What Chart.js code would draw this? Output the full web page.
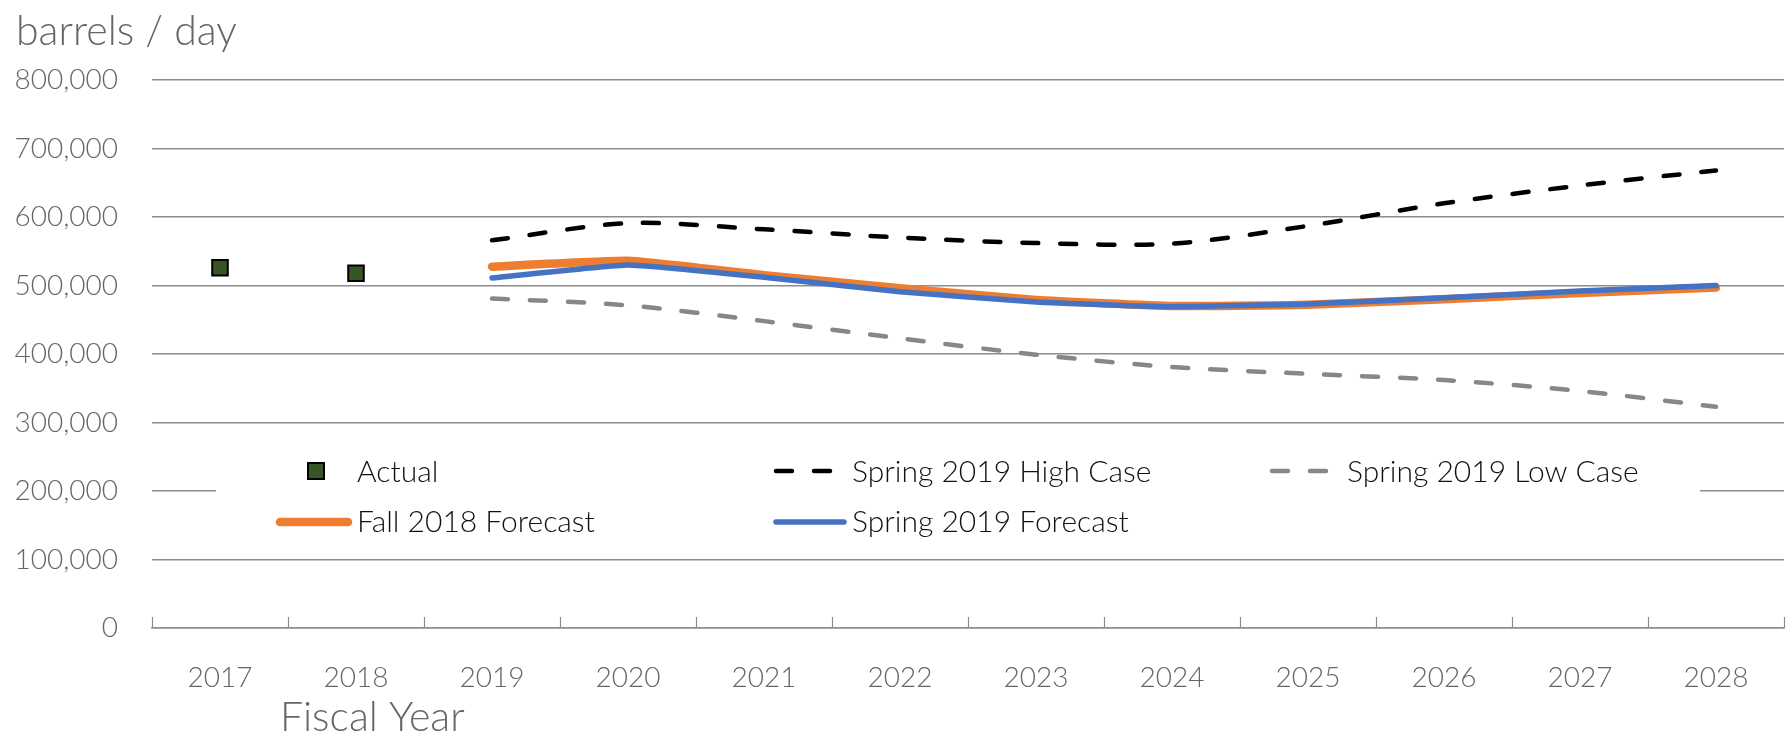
<!DOCTYPE html>
<html><head><meta charset="utf-8">
<script src="https://cdn.jsdelivr.net/npm/chart.js@4"></script>
<style>html,body{margin:0;padding:0;background:#fff;overflow:hidden}#wrap{width:1787px;height:736px;position:relative}</style>
</head><body><div id="wrap"><canvas id="c" width="1787" height="736"></canvas></div>
<script>
const years = ['2017','2018','2019','2020','2021','2022','2023','2024','2025','2026','2027','2028'];
const actual = [526000, 518000, null, null, null, null, null, null, null, null, null, null];
const fall2018 = [null, null, 527500, 536000, 515000, 496000, 479000, 470000, 472000, 480000, 489000, 497000];
const spring2019 = [null, null, 511000, 530000, 512000, 491000, 476000, 469000, 473000, 482000, 492000, 500000];
const highCase = [null, null, 566000, 591000, 582000, 570000, 562000, 561000, 587000, 620000, 646000, 668000];
const lowCase = [null, null, 481000, 471000, 448000, 423000, 399000, 381000, 371000, 362000, 346000, 323000];
const yTicks = [0, 100000, 200000, 300000, 400000, 500000, 600000, 700000, 800000];
const yTitle = 'barrels / day';
const xTitle = 'Fiscal Year';
const legendItems = ['Actual', 'Spring 2019 High Case', 'Spring 2019 Low Case', 'Fall 2018 Forecast', 'Spring 2019 Forecast'];

const FAM = 'Lato, "Open Sans", sans-serif';
const GRID = '#8c8c8c';
const TXT = '#666666';
const C = {orange:'#ED7D31', blue:'#4472C4', green:'#375623', black:'#000000', grey:'#878787'};

const extras = {
  id: 'extras',
  beforeDatasetsDraw(chart) {
    const ctx = chart.ctx, xs = chart.scales.x, ys = chart.scales.y;
    ctx.save();
    ctx.strokeStyle = GRID; ctx.lineWidth = 1.2;
    const y0 = ys.getPixelForValue(0);
    for (let i = 0; i <= years.length; i++) {
      const x = Math.round(xs.getPixelForValue(i - 0.5)) + 0.5;
      ctx.beginPath(); ctx.moveTo(x, y0); ctx.lineTo(x, y0 - 11); ctx.stroke();
    }
    ctx.fillStyle = '#fff';
    ctx.fillRect(216, 437, 1484, 108);
    const r1 = 471, r2 = 522, b1 = 482, b2 = 532;
    const cols = [278, 774, 1270];
    const seg = (x, y, color, w, dash) => {
      ctx.beginPath(); ctx.strokeStyle = color; ctx.lineWidth = w; ctx.lineCap = 'round';
      ctx.setLineDash(dash || []); ctx.moveTo(x + 2, y); ctx.lineTo(x + 70, y); ctx.stroke();
      ctx.setLineDash([]);
    };
    ctx.fillStyle = C.green; ctx.strokeStyle = '#000'; ctx.lineWidth = 2;
    ctx.fillRect(308, r1 - 8, 16, 16); ctx.strokeRect(308, r1 - 8, 16, 16);
    seg(cols[1], r1, C.black, 4.5, [16, 22]);
    seg(cols[2], r1, C.grey, 4.5, [16, 22]);
    seg(cols[0], r2, C.orange, 8.5);
    seg(cols[1], r2, C.blue, 5.5);
    ctx.fillStyle = '#111'; ctx.font = '300 30px ' + FAM; ctx.textBaseline = 'alphabetic'; ctx.textAlign = 'left';
    ctx.fillText(legendItems[0], 357, b1);
    ctx.fillText(legendItems[1], 852, b1);
    ctx.fillText(legendItems[2], 1347, b1);
    ctx.fillText(legendItems[3], 357, b2);
    ctx.fillText(legendItems[4], 852, b2);
    ctx.restore();
  },
  afterDraw(chart) {
    const ctx = chart.ctx;
    ctx.save();
    ctx.fillStyle = TXT; ctx.textAlign = 'left'; ctx.textBaseline = 'alphabetic';
    ctx.font = '300 41px ' + FAM;
    ctx.fillText(yTitle, 16, 45);
    ctx.font = '300 41px ' + FAM;
    ctx.fillText(xTitle, 280, 731);
    ctx.restore();
  }
};

new Chart(document.getElementById('c'), {
  type: 'line',
  data: {
    labels: years,
    datasets: [
      {label: legendItems[0], data: actual, showLine: false, pointStyle: 'rect', pointRadius: 11, pointHoverRadius: 11,
       backgroundColor: C.green, borderColor: '#000', borderWidth: 2, order: 0},
      {label: legendItems[4], data: spring2019, borderColor: C.blue, borderWidth: 5.5, pointRadius: 0, tension: 0.12,
       borderCapStyle: 'round', borderJoinStyle: 'round', fill: false, order: 1},
      {label: legendItems[3], data: fall2018, borderColor: C.orange, borderWidth: 8.5, pointRadius: 0, tension: 0.12,
       borderCapStyle: 'round', borderJoinStyle: 'round', fill: false, order: 2},
      {label: legendItems[1], data: highCase, borderColor: C.black, borderWidth: 4.5, borderDash: [16, 22], pointRadius: 0,
       tension: 0.3, borderCapStyle: 'round', fill: false, order: 3},
      {label: legendItems[2], data: lowCase, borderColor: C.grey, borderWidth: 4.5, borderDash: [16, 22], pointRadius: 0,
       tension: 0.3, borderCapStyle: 'round', fill: false, order: 3}
    ]
  },
  options: {
    responsive: false, animation: false, devicePixelRatio: 1,
    layout: {autoPadding: false, padding: {top: 80, right: 3, bottom: 0, left: 0}},
    plugins: {legend: {display: false}, tooltip: {enabled: false}, title: {display: false}},
    scales: {
      x: {
        offset: true,
        grid: {display: false, drawTicks: false},
        border: {display: true, color: GRID, width: 1.5},
        ticks: {color: TXT, font: {family: FAM, size: 28, weight: '300'}, padding: 33, maxRotation: 0, autoSkip: false},
        afterFit: s => { s.height = 108; s.paddingLeft = 0; s.paddingRight = 0; }
      },
      y: {
        min: 0, max: 800000,
        afterBuildTicks: s => { s.ticks = yTicks.map(v => ({value: v})); },
        grid: {color: GRID, lineWidth: 1.5, drawTicks: false},
        border: {display: false},
        ticks: {color: TXT, font: {family: FAM, size: 28, weight: '300'}, padding: 34,
                callback: v => v.toLocaleString('en-US')},
        afterFit: s => { s.width = 152; s.paddingTop = 0; s.paddingBottom = 0; }
      }
    }
  },
  plugins: [extras]
});
</script></body></html>
